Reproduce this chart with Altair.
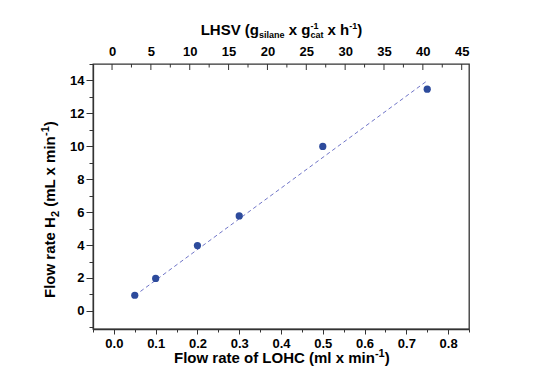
import altair as alt
import pandas as pd

# ---- data ----
lohc_flow = [0.05, 0.10, 0.20, 0.30, 0.50, 0.75]      # ml/min
h2_flow = [0.95, 1.97, 3.97, 5.77, 9.99, 13.47]        # mL/min
fit_x = [0.05, 0.752]
fit_y = [0.93, 14.02]

x_major = [0.0, 0.1, 0.2, 0.3, 0.4, 0.5, 0.6, 0.7, 0.8]
x_minor = [-0.05, 0.05, 0.15, 0.25, 0.35, 0.45, 0.55, 0.65, 0.75, 0.85]
y_major = [0, 2, 4, 6, 8, 10, 12, 14]
y_minor = [-1, 1, 3, 5, 7, 9, 11, 13, 15]
lhsv_major = [0, 5, 10, 15, 20, 25, 30, 35, 40, 45]
lhsv_minor = [2.5, 7.5, 12.5, 17.5, 22.5, 27.5, 32.5, 37.5, 42.5]

FONT = "Liberation Sans"
FRAME = "#333333"

df = pd.DataFrame({"flow": lohc_flow, "h2": h2_flow})
fit = pd.DataFrame({"flow": fit_x, "h2": fit_y})

xs = alt.Scale(domain=[-0.05, 0.85], nice=False, zero=False)
ys = alt.Scale(domain=[-1.1, 15], nice=False, zero=False)
ts = alt.Scale(domain=[-2.45, 45.94], nice=False, zero=False)

is_major_x = "abs(datum.value*10 - round(datum.value*10)) < 0.001"
is_major_y = "datum.value % 2 == 0"

x_axis = alt.Axis(
    orient="bottom", values=sorted(x_major + x_minor), title=None, grid=False,
    labelExpr=f"{is_major_x} ? format(datum.value, '.1f') : ''",
    tickSize={"condition": {"test": is_major_x, "value": 5}, "value": 3},
    labelPadding=3, labelOverlap=False, labelFlush=False,
)
y_axis = alt.Axis(
    orient="left", values=sorted(y_major + y_minor), title=None, grid=False,
    labelExpr=f"{is_major_y} ? format(datum.value, 'd') : ''",
    tickSize={"condition": {"test": is_major_y, "value": 7}, "value": 4},
    labelPadding=2, labelOverlap=False, labelFlush=False,
)

line = alt.Chart(fit).mark_line(color="#7075c8", strokeDash=[4, 3], strokeWidth=1).encode(
    x=alt.X("flow:Q", scale=xs, axis=x_axis),
    y=alt.Y("h2:Q", scale=ys, axis=y_axis),
)
points = alt.Chart(df).mark_circle(size=52, color="#2D4B9C", opacity=1).encode(
    x=alt.X("flow:Q", scale=xs, axis=x_axis),
    y=alt.Y("h2:Q", scale=ys, axis=y_axis),
)

top_axis = alt.Axis(
    orient="top", values=lhsv_major, title=None, ticks=True, tickSize=0,
    domain=False, labelPadding=6, format="d", labelFlush=False,
    labelOverlap=False, grid=False,
)
top_major = alt.Chart(pd.DataFrame({"lhsv": lhsv_major})).mark_rule(
    color=FRAME, strokeWidth=1
).encode(
    x=alt.X("lhsv:Q", scale=ts, axis=top_axis),
    y=alt.value(0), y2=alt.value(6),
)
top_minor = alt.Chart(pd.DataFrame({"lhsv": lhsv_minor})).mark_rule(
    color=FRAME, strokeWidth=1
).encode(
    x=alt.X("lhsv:Q", scale=ts, axis=None),
    y=alt.value(0), y2=alt.value(3.5),
)

one = pd.DataFrame({"k": [0]})


def piece(txt, x, y, size, angle=0):
    return alt.Chart(one).mark_text(
        text=txt, align="left", baseline="alphabetic", font=FONT,
        fontWeight="bold", fontSize=size, angle=angle, color="black",
    ).encode(x=alt.value(x), y=alt.value(y))


texts = [
    # top title: LHSV (g_silane x g_cat^-1 x h^-1)
    piece("LHSV (g", 107.7, -29, 15),
    piece("silane", 166.0, -26, 9),
    piece("x g", 195.7, -29, 15),
    piece("-1", 217.4, -35, 9),
    piece("cat", 217.4, -26, 9),
    piece("x h", 234.6, -29, 15),
    piece("-1", 256.3, -35, 9),
    piece(")", 264.3, -29, 15),
    # bottom title: Flow rate of LOHC (ml x min^-1)
    piece("Flow rate of LOHC (ml x min", 81, 298.5, 15),
    piece("-1", 281.9, 292.5, 11),
    piece(")", 291.7, 298.5, 15),
    # left title: Flow rate H_2 (mL x min^-1)
    piece("Flow rate H", -38, 234, 15, 270),
    piece("2", -34.5, 153.1, 11, 270),
    piece("(mL x min", -38, 142.8, 15, 270),
    piece("-1", -44, 72.0, 11, 270),
    piece(")", -38, 62.2, 15, 270),
]

chart = alt.layer(
    alt.layer(line, points),
    top_major,
    top_minor,
    *texts,
).resolve_scale(x="independent").properties(
    width=376, height=265,
    autosize=alt.AutoSizeParams(type="none"),
    padding={"left": 85, "top": 56, "right": 70, "bottom": 40},
    background="white",
).configure_view(
    stroke=FRAME, strokeWidth=1.3
).configure_axis(
    labelFont=FONT, labelFontWeight="bold", labelFontSize=13, labelColor="black",
    domainColor=FRAME, domainWidth=1.3, tickColor=FRAME, tickWidth=1,
)

chart.save("out.html", embed_options={"renderer": "svg", "actions": False})
